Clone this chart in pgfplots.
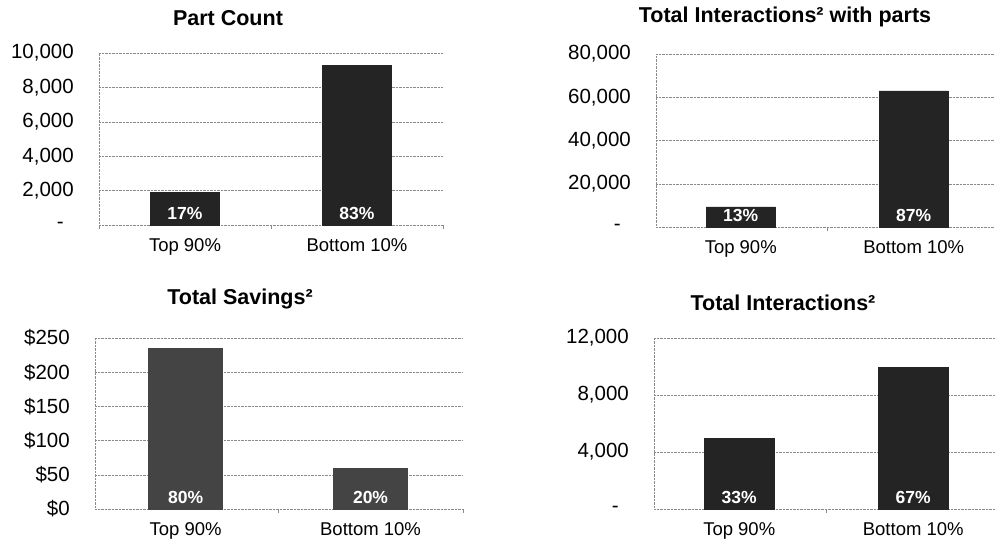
\documentclass[border=0pt]{standalone}
\usepackage{fontspec}
\setmainfont{Liberation Sans}
\usepackage{pgfplots}
\pgfplotsset{compat=1.18}
\definecolor{barA}{HTML}{242424}
\definecolor{barB}{HTML}{444444}
\definecolor{gridc}{HTML}{8A8A8A}
\tikzset{
  pct/.style={font=\bfseries\fontsize{17.5}{17.5}\selectfont, text=white, anchor=south, yshift=5pt, inner sep=0pt},
  ttl/.style={font=\bfseries\fontsize{21.5}{21.5}\selectfont, anchor=center},
}
\newcommand{\zero}{-\rule{10pt}{0pt}}
\pgfplotsset{
  panel/.style={
    scale only axis,
    anchor=south west,
    scaled y ticks=false,
    ybar, bar width=0.4,
    xtick={0,1}, xticklabels={Top 90\%,Bottom 10\%},
    extra x ticks={-0.5,0.5,1.5}, extra x tick labels={},
    extra x tick style={grid=none, major tick length=4pt, tick style={gridc, thin}},
    axis x line*=bottom, axis y line*=left,
    axis line style={gridc, densely dotted, thin},
    x axis line style={-}, y axis line style={-},
    ymajorgrids, grid style={gridc, densely dotted, thin},
    major tick length=0pt,
    xticklabel style={font=\fontsize{18.5}{18.5}\selectfont, yshift=-10pt},
    yticklabel style={font=\fontsize{20.5}{20.5}\selectfont, anchor=east, inner sep=0pt, xshift=-25pt},
    ymin=0,
    clip=false,
  },
}
\begin{document}
\begin{tikzpicture}[x=1pt,y=1pt]
\useasboundingbox (0,0) rectangle (995,544);
% Panel 1
\begin{axis}[panel, at={(99pt,319pt)}, width=344pt, height=172pt,
  xmin=-0.5, xmax=1.5, ymax=10000,
  ytick={0,2000,4000,6000,8000,10000},
  yticklabels={{\zero},{2,000},{4,000},{6,000},{8,000},{10,000}}]
\addplot[fill=barA, draw=barA] coordinates {(0,1900) (1,9300)};
\node[pct] at (axis cs:0,0) {17\%};
\node[pct] at (axis cs:1,0) {83\%};
\end{axis}
% Panel 2
\begin{axis}[panel, at={(656pt,317pt)}, width=339pt, height=173pt,
  xmin=-0.49, xmax=1.47, ymax=80000,
  ytick={0,20000,40000,60000,80000},
  yticklabels={{\zero},{20,000},{40,000},{60,000},{80,000}}]
\addplot[fill=barA, draw=barA] coordinates {(0,9300) (1,63000)};
\node[pct] at (axis cs:0,0) {13\%};
\node[pct] at (axis cs:1,0) {87\%};
\end{axis}
% Panel 3
\begin{axis}[panel, at={(95pt,35pt)}, width=368pt, height=171pt,
  xmin=-0.49, xmax=1.5, ymax=250,
  ytick={0,50,100,150,200,250},
  yticklabels={\$0,\$50,\$100,\$150,\$200,\$250}]
\addplot[fill=barB, draw=barB] coordinates {(0,235) (1,59)};
\node[pct] at (axis cs:0,0) {80\%};
\node[pct] at (axis cs:1,0) {20\%};
\end{axis}
% Panel 4
\begin{axis}[panel, at={(654pt,35pt)}, width=341pt, height=171pt,
  xmin=-0.49, xmax=1.47, ymax=12000,
  ytick={0,4000,8000,12000},
  yticklabels={{\zero},{4,000},{8,000},{12,000}}]
\addplot[fill=barA, draw=barA] coordinates {(0,4950) (1,9950)};
\node[pct] at (axis cs:0,0) {33\%};
\node[pct] at (axis cs:1,0) {67\%};
\end{axis}
% Titles
\node[ttl] at (228,526) {Part Count};
\node[ttl] at (785,527) {Total Interactions² with parts};
\node[ttl] at (240,245) {Total Savings²};
\node[ttl] at (783,241) {Total Interactions²};
\end{tikzpicture}
\end{document}
